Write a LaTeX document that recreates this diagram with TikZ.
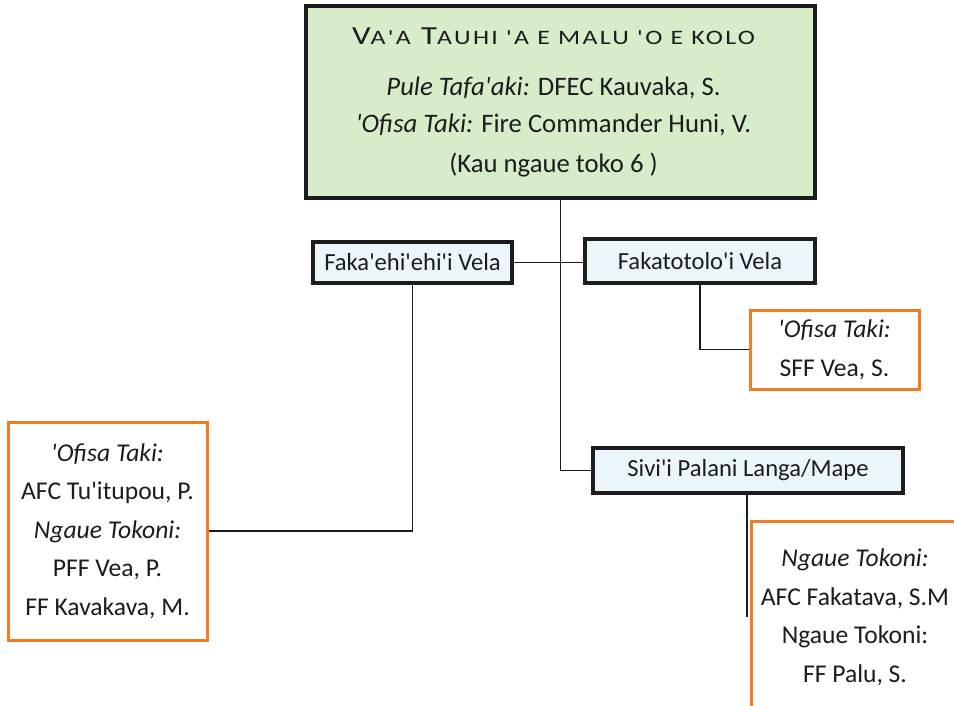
\documentclass[tikz,border=0pt]{standalone}
\usepackage{fontspec}
\usepackage{graphicx}
\newfontfamily\calfont{Carlito}
\newfontfamily\calspaced{Carlito}[LetterSpace=9]
\definecolor{topgreen}{RGB}{215,237,201}
\definecolor{lightblue}{RGB}{234,246,251}
\definecolor{orangeline}{RGB}{240,125,34}
\definecolor{inkc}{RGB}{28,28,30}
\newcommand\fsc[1]{{\fontsize{20.5}{21}\selectfont #1}}
\newcommand\titleline{\resizebox{403pt}{\height}{\calspaced\fontsize{26}{26}\selectfont V\fsc{A'A} T\fsc{AUHI 'A E MALU 'O E KOLO}}}
\newcommand\padline[1]{\mbox{#1\hspace{14pt}}}
\tikzset{
  every node/.style={font=\calfont, text=inkc},
  topbox/.style={draw=inkc, line width=4pt, fill=topgreen, inner sep=0pt, align=center,
    font=\calfont\fontsize{26.7}{37}\selectfont},
  unitbox/.style={draw=inkc, line width=3.6pt, fill=lightblue, inner sep=0pt, align=center,
    font=\calfont\fontsize{24.6}{28}\selectfont},
  staffbox/.style={draw=orangeline, line width=3pt, fill=white, inner sep=0pt, align=center,
    font=\calfont\fontsize{25.6}{38.5}\selectfont},
  link/.style={draw=inkc, line width=1.8pt}
}
\begin{document}
\begin{tikzpicture}[x=1pt, y=-1pt]
\clip (0,0) rectangle (954,706);
\fill[white] (0,0) rectangle (954,706);
% boxes
\node[topbox, minimum width=509pt, minimum height=192pt] (top) at (560.5,102)
  {\padline{\titleline}\\[14pt]
   \padline{\textit{Pule Tafa'aki:} DFEC Kauvaka, S.}\\
   \padline{\textit{'Ofisa Taki:} Fire Commander Huni, V.}\\[3pt]
   \padline{(Kau ngaue toko 6 )}};
\node[unitbox, minimum width=199pt, minimum height=41pt] (faka) at (412.5,262.5) {Faka'ehi'ehi'i Vela};
\node[unitbox, minimum width=230pt, minimum height=44pt] (fakat) at (700,261) {Fakatotolo'i Vela};
\node[unitbox, minimum width=310pt, minimum height=45pt] (sivi) at (748,470.5) {Sivi'i Palani Langa/Mape};
\node[staffbox, minimum width=169pt, minimum height=79pt] (st1) at (834.5,349.5)
  {\textit{'Ofisa Taki:}\\ SFF Vea, S.};
\node[staffbox, minimum width=199pt, minimum height=218pt] (st2) at (107.5,531)
  {\textit{'Ofisa Taki:}\\ AFC Tu'itupou, P.\\ \textit{Ngaue Tokoni:}\\ PFF Vea, P.\\ FF Kavakava, M.};
\node[staffbox, minimum width=208pt, minimum height=192pt] (st3) at (855,617)
  {\textit{Ngaue Tokoni:}\\ AFC Fakatava, S.M\\ Ngaue Tokoni:\\ FF Palu, S.};
% connectors
\draw[link] (top.south) |- (sivi.west);
\draw[link] (faka.east) -- (faka.east -| fakat.west);
\draw[link] (faka.south) |- (st2.east);
\draw[link] (fakat.south) |- (st1.west);
\draw[link] ([xshift=-1pt]sivi.south) -- ([xshift=-1pt]sivi.south |- st3.west);
\end{tikzpicture}
\end{document}
